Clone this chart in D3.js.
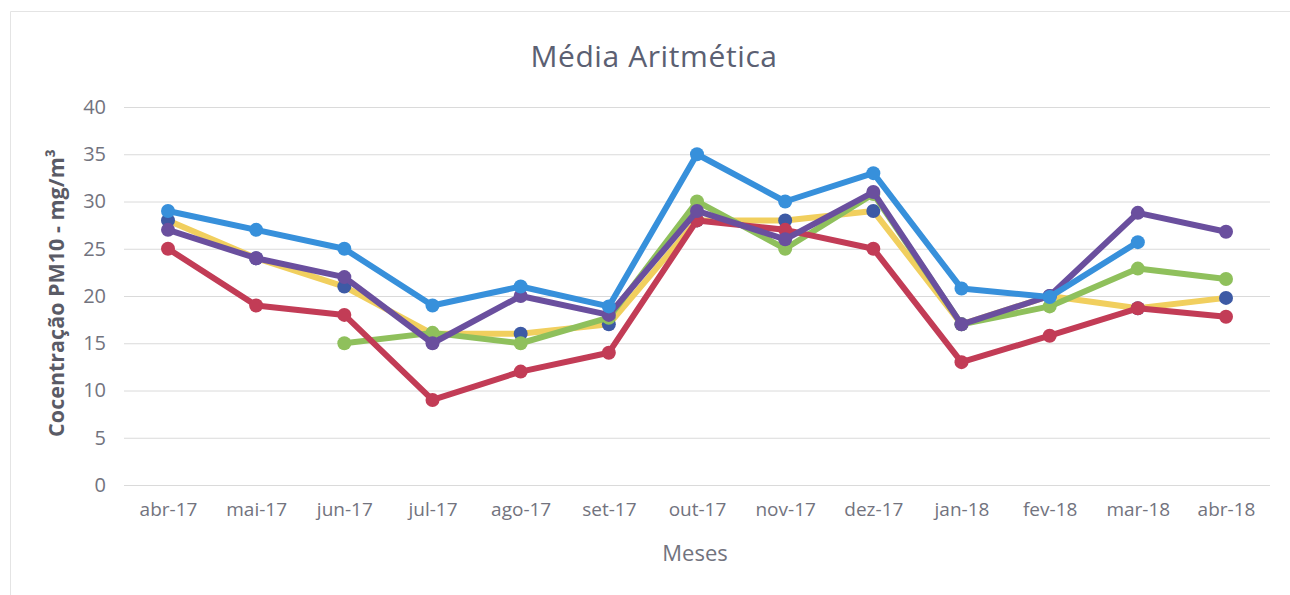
<!DOCTYPE html>
<html><head><meta charset="utf-8">
<script src="https://cdn.jsdelivr.net/npm/d3@7"></script>
<style>body{margin:0;background:#fff;}svg{display:block;}</style>
</head><body>
<svg id="c" width="1290" height="595"></svg>
<script>
const categories = ["abr-17","mai-17","jun-17","jul-17","ago-17","set-17","out-17","nov-17","dez-17","jan-18","fev-18","mar-18","abr-18"];
const yTicks = [0,5,10,15,20,25,30,35,40];
const serieAmarela = [28,24,21,16,16,17,28,28,29,17,20,18.7,19.8];
const serieVerde = [null,null,15,16.1,15,17.7,30,25,30.8,17,18.9,22.9,21.8];
const serieVermelha = [25,19,18,9,12,14,28,27,25,13,15.8,18.7,17.8];
const serieRoxa = [27,24,22,15,20,18,29,26,31,17,20,28.8,26.8];
const serieAzul = [29,27,25,19,21,18.9,35,30,33,20.8,19.9,25.7,null];
const titulo = "Média Aritmética";
const yLabel = "Cocentração PM10 - mg/m³";
const xLabel = "Meses";

const series = [
  {values: serieAmarela, line: "#f1cf5e", marker: "#3d5aa5"},
  {values: serieVerde, line: "#8fc05c", marker: "#8fc05c"},
  {values: serieVermelha, line: "#c23c56", marker: "#c23c56"},
  {values: serieRoxa, line: "#6a4f9e", marker: "#6a4f9e"},
  {values: serieAzul, line: "#3790db", marker: "#3790db"}
];

const svg = d3.select("#c");
const font = "'Open Sans', sans-serif";
const pLeft = 124, pRight = 1270, pTop = 107, pBottom = 485;

// faint border
svg.append("path").attr("d","M10.5,595 L10.5,11.5 L1290,11.5").attr("fill","none").attr("stroke","#e4e4e4").attr("stroke-width",1);

const x = d3.scalePoint().domain(categories).range([168,1226]);
const y = d3.scaleLinear().domain([0,40]).range([pBottom, pTop]);

// grid
const yAxis = d3.axisLeft(y).tickValues(yTicks).tickSize(-(pRight-pLeft)).tickPadding(18);
const gy = svg.append("g").attr("transform",`translate(${pLeft},0)`).call(yAxis);
gy.select(".domain").remove();
gy.selectAll(".tick line").attr("stroke","#dadada").attr("stroke-width",1);
gy.selectAll(".tick text").attr("font-family",font).attr("font-size",20).attr("fill","#72737e");

const xAxis = d3.axisBottom(x).tickSize(0).tickPadding(18);
const gx = svg.append("g").attr("transform",`translate(0,${pBottom})`).call(xAxis);
gx.select(".domain").remove();
gx.selectAll(".tick text").attr("font-family",font).attr("font-size",19).attr("fill","#72737e");

// series
const lineGen = d3.line().defined(d=>d.v!=null).x(d=>x(d.c)).y(d=>y(d.v));
series.forEach(s=>{
  const data = categories.map((c,i)=>({c, v:s.values[i]}));
  const g = svg.append("g");
  g.append("path").datum(data).attr("d",lineGen).attr("fill","none")
    .attr("stroke",s.line).attr("stroke-width",6).attr("stroke-linejoin","round");
  g.selectAll("circle").data(data.filter(d=>d.v!=null)).join("circle")
    .attr("cx",d=>x(d.c)).attr("cy",d=>y(d.v)).attr("r",7).attr("fill",s.marker);
});

// texts
svg.append("text").attr("x",654).attr("y",67).attr("text-anchor","middle")
  .attr("font-family",font).attr("font-size",30).attr("letter-spacing",0.6).attr("fill","#5b6072").text(titulo);
svg.append("text").attr("transform","translate(64,293) rotate(-90)").attr("text-anchor","middle")
  .attr("font-family",font).attr("font-weight","bold").attr("font-size",21.5).attr("fill","#5a5b66").text(yLabel);
svg.append("text").attr("x",695).attr("y",561).attr("text-anchor","middle")
  .attr("font-family",font).attr("font-size",22).attr("fill","#72737e").text(xLabel);
</script>
</body></html>
